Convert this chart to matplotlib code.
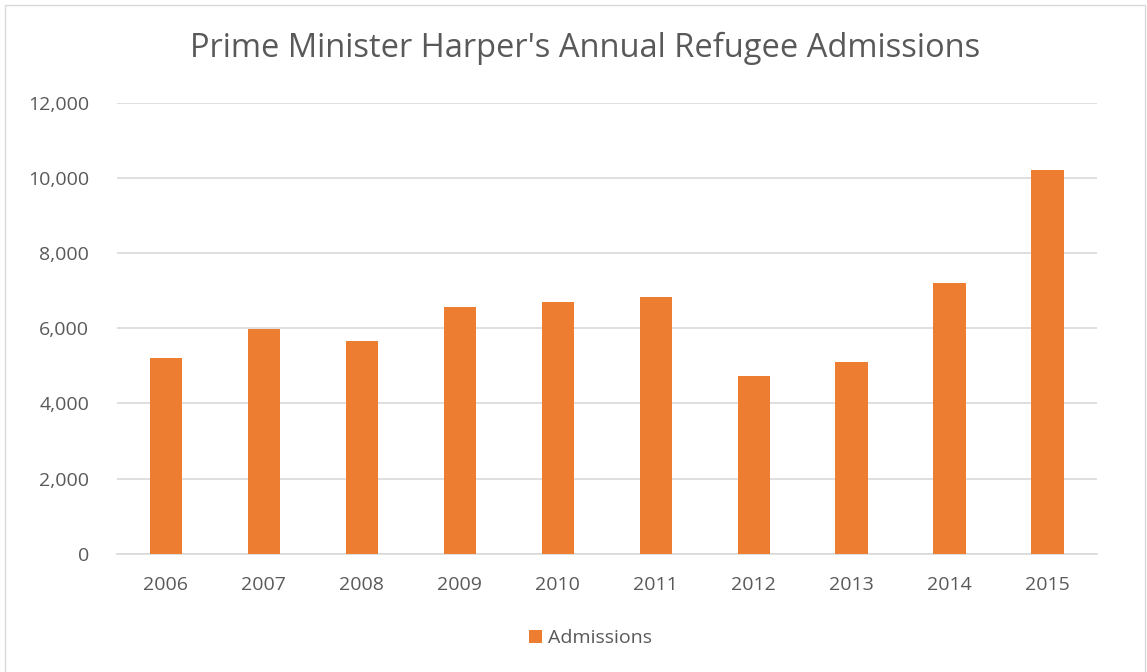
import matplotlib.pyplot as plt
from matplotlib.patches import Rectangle
from matplotlib.ticker import FuncFormatter

years = ['2006', '2007', '2008', '2009', '2010', '2011', '2012', '2013', '2014', '2015']
admissions = [5200, 5990, 5650, 6570, 6700, 6830, 4740, 5100, 7210, 10220]

plt.rcParams['font.family'] = ['Open Sans', 'DejaVu Sans']

fig = plt.figure(figsize=(11.47, 6.72), dpi=100)
ax = fig.add_axes([0.102, 0.176, 0.854, 0.671])

ax.bar(range(len(years)), admissions, width=0.33, color='#ED7D31', label='Admissions', zorder=3)

ax.set_xlim(-0.5, len(years) - 0.5)
ax.set_ylim(0, 12000)
ax.set_yticks(range(0, 12001, 2000))
ax.yaxis.set_major_formatter(FuncFormatter(lambda v, p: f'{int(v):,}'))
ax.set_xticks(range(len(years)))
ax.set_xticklabels(years)

ax.grid(axis='y', color='#d9d9d9', linewidth=1.2, zorder=0)
for s in ['top', 'right', 'left']:
    ax.spines[s].set_visible(False)
ax.spines['bottom'].set_color('#d9d9d9')
ax.spines['bottom'].set_linewidth(1.2)
ax.tick_params(length=0, labelsize=14, colors='#595959')
ax.tick_params(axis='x', pad=16)
ax.tick_params(axis='y', pad=20)

fig.text(0.51, 0.928, "Prime Minister Harper's Annual Refugee Admissions",
         ha='center', va='center', fontsize=23.5, color='#595959')

fig.legend(loc='center', bbox_to_anchor=(0.515, 0.05), frameon=False,
           fontsize=14, labelcolor='#595959', handlelength=0.65, handleheight=0.65,
           handletextpad=0.3)

fig.patches.append(Rectangle((0.004, -0.01), 0.994, 1.002, transform=fig.transFigure,
                             fill=False, edgecolor='#d9d9d9', linewidth=1))

fig.savefig('out.png', dpi=100)
